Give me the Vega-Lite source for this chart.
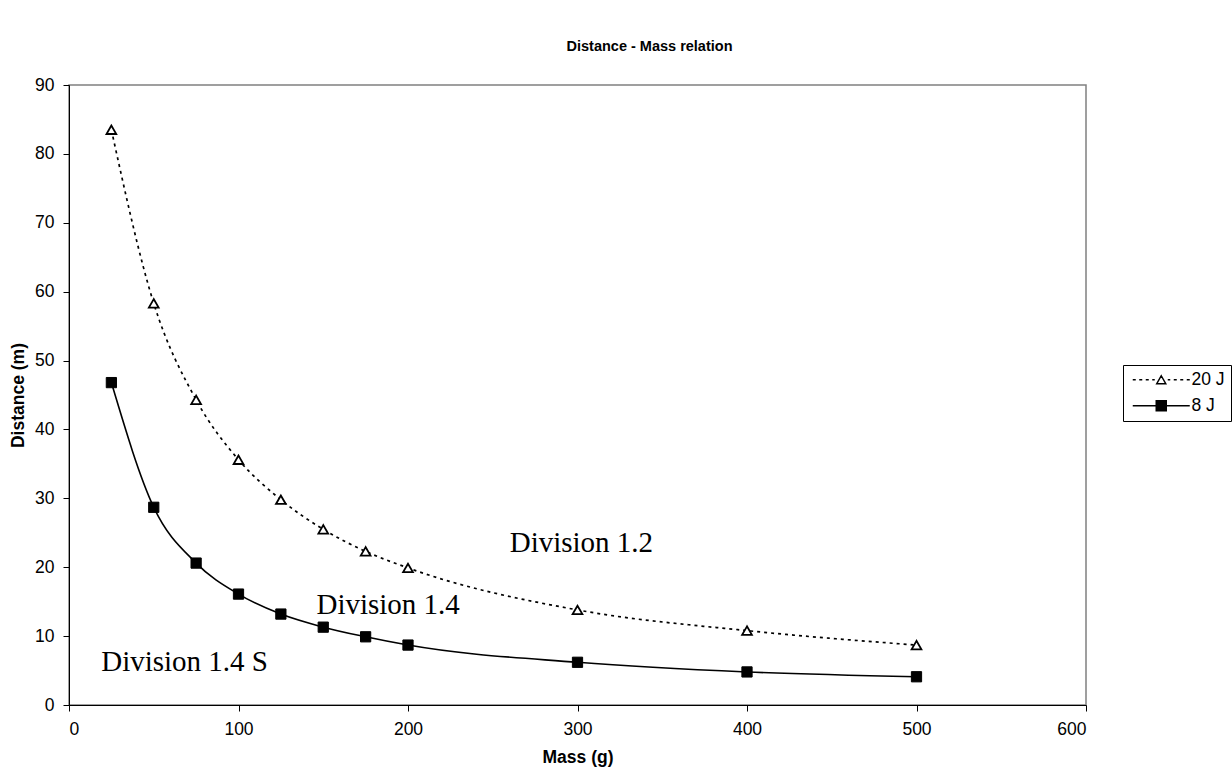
{
  "$schema": "https://vega.github.io/schema/vega-lite/v6.json",
  "width": 1017,
  "height": 620,
  "autosize": "none",
  "padding": {"left": 69, "top": 85, "right": 146, "bottom": 71},
  "background": "white",
  "config": {
    "font": "Liberation Sans",
    "view": {"stroke": "#808080", "strokeWidth": 1.5},
    "axis": {
      "domainColor": "black",
      "tickColor": "black",
      "grid": false,
      "labelColor": "black",
      "titleColor": "black",
      "labelFont": "Liberation Sans",
      "titleFont": "Liberation Sans",
      "labelFontSize": 17.5,
      "titleFontSize": 17.5,
      "titleFontWeight": "bold",
      "tickSize": 6
    }
  },
  "title": {
    "text": "Distance - Mass relation",
    "font": "Liberation Sans",
    "fontSize": 14.5,
    "fontWeight": "bold",
    "color": "black",
    "anchor": "middle",
    "dx": 72,
    "offset": 22
  },
  "data": {
    "values": [
      {"mass": 25, "distance": 83.5, "series": "20 J"},
      {"mass": 50, "distance": 58.3, "series": "20 J"},
      {"mass": 75, "distance": 44.3, "series": "20 J"},
      {"mass": 100, "distance": 35.6, "series": "20 J"},
      {"mass": 125, "distance": 29.8, "series": "20 J"},
      {"mass": 150, "distance": 25.5, "series": "20 J"},
      {"mass": 175, "distance": 22.3, "series": "20 J"},
      {"mass": 200, "distance": 19.9, "series": "20 J"},
      {"mass": 300, "distance": 13.8, "series": "20 J"},
      {"mass": 400, "distance": 10.8, "series": "20 J"},
      {"mass": 500, "distance": 8.7, "series": "20 J"},
      {"mass": 25, "distance": 46.8, "series": "8 J"},
      {"mass": 50, "distance": 28.7, "series": "8 J"},
      {"mass": 75, "distance": 20.6, "series": "8 J"},
      {"mass": 100, "distance": 16.1, "series": "8 J"},
      {"mass": 125, "distance": 13.2, "series": "8 J"},
      {"mass": 150, "distance": 11.3, "series": "8 J"},
      {"mass": 175, "distance": 9.9, "series": "8 J"},
      {"mass": 200, "distance": 8.7, "series": "8 J"},
      {"mass": 300, "distance": 6.2, "series": "8 J"},
      {"mass": 400, "distance": 4.8, "series": "8 J"},
      {"mass": 500, "distance": 4.1, "series": "8 J"}
    ]
  },
  "encoding": {
    "x": {
      "field": "mass",
      "type": "quantitative",
      "scale": {"domain": [0, 600], "nice": false, "zero": true},
      "axis": {"values": [0, 100, 200, 300, 400, 500, 600], "title": "Mass (g)", "labelPadding": 9, "titleY": 52, "titleBaseline": "middle"}
    },
    "y": {
      "field": "distance",
      "type": "quantitative",
      "scale": {"domain": [0, 90], "nice": false},
      "axis": {"values": [0, 10, 20, 30, 40, 50, 60, 70, 80, 90], "title": "Distance (m)", "labelPadding": 9, "titleX": -51, "titleY": 310, "titleBaseline": "middle", "titleAngle": -90, "titleAlign": "center"}
    }
  },
  "layer": [
    {
      "transform": [{"filter": "datum.series === '20 J'"}],
      "mark": {"type": "line", "color": "black", "strokeWidth": 1.7, "strokeDash": [3, 4], "interpolate": "monotone"}
    },
    {
      "transform": [{"filter": "datum.series === '8 J'"}],
      "mark": {"type": "line", "color": "black", "strokeWidth": 1.6, "interpolate": "monotone"}
    },
    {
      "transform": [{"filter": "datum.series === '20 J'"}],
      "mark": {"type": "point", "shape": "triangle-up", "size": 95, "filled": true, "fill": "white", "stroke": "black", "strokeWidth": 1.8, "opacity": 1}
    },
    {
      "transform": [{"filter": "datum.series === '8 J'"}],
      "mark": {"type": "point", "shape": "square", "size": 105, "filled": true, "fill": "black", "stroke": "black", "strokeWidth": 1, "opacity": 1}
    },
    {
      "transform": [{"filter": "false"}],
      "mark": {"type": "point", "filled": true, "strokeWidth": 1.5, "opacity": 1},
      "encoding": {
        "shape": {
          "field": "series",
          "type": "nominal",
          "scale": {
            "domain": ["20 J", "8 J"],
            "range": [
              "M-1,0H-0.4M0.3,0H0.9M1.6,0H2.2M2.9,0H3.4M4.7,-0.8L5.6,0.8H3.8ZM6,0H6.5M7.2,0H7.8M8.5,0H9.1M9.8,0H10.4",
              "M-1,0H10.4M3.7,-1H5.7V1H3.7Z"
            ]
          },
          "legend": {
            "title": null,
            "orient": "none",
            "legendX": 1054,
            "legendY": 280,
            "strokeColor": "black",
            "padding": 6,
            "symbolSize": 100,
            "symbolStrokeWidth": 1.5,
            "labelOffset": 45,
            "labelFontSize": 17.5,
            "labelFont": "Liberation Sans",
            "labelColor": "black",
            "rowPadding": 7
          }
        },
        "fill": {
          "field": "series",
          "type": "nominal",
          "scale": {"domain": ["20 J", "8 J"], "range": ["white", "black"]},
          "legend": {"title": null, "orient": "none", "legendX": 1054, "legendY": 280}
        },
        "stroke": {
          "field": "series",
          "type": "nominal",
          "scale": {"domain": ["20 J", "8 J"], "range": ["black", "black"]},
          "legend": {"title": null, "orient": "none", "legendX": 1054, "legendY": 280}
        }
      }
    },
    {
      "data": {
        "values": [
          {"mass": 260, "distance": 23.5, "label": "Division 1.2"},
          {"mass": 146, "distance": 14.5, "label": "Division 1.4"},
          {"mass": 19, "distance": 6.3, "label": "Division 1.4 S"}
        ]
      },
      "mark": {"type": "text", "font": "Liberation Serif", "fontSize": 29, "align": "left", "baseline": "middle", "color": "black"},
      "encoding": {
        "text": {"field": "label"}
      }
    }
  ]
}
